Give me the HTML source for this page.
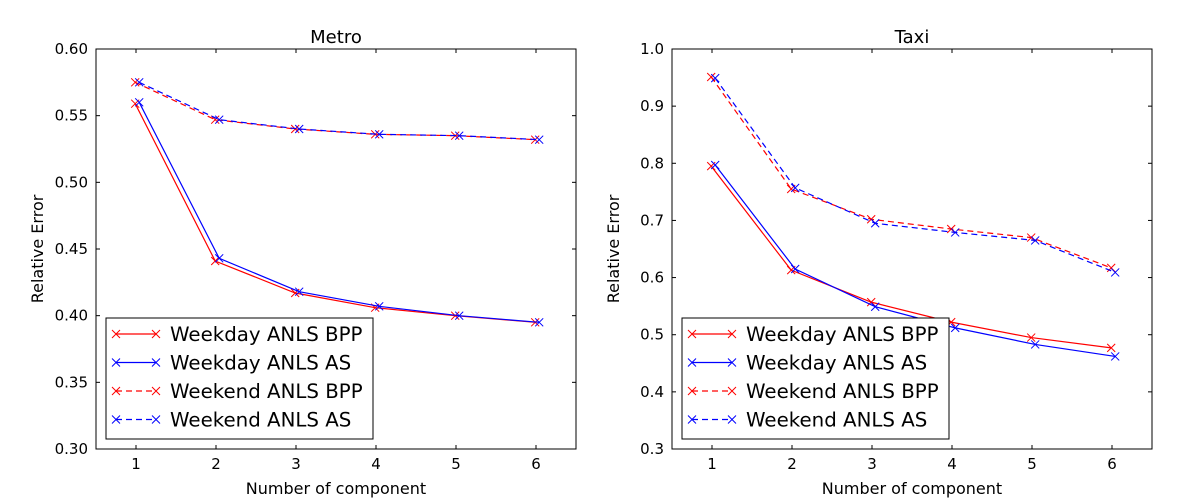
<!DOCTYPE html>
<html><head><meta charset="utf-8"><style>
body{margin:0;background:#fff;font-family:"DejaVu Sans","Liberation Sans",sans-serif;}
svg text{font-family:"DejaVu Sans","Liberation Sans",sans-serif;}
</style></head><body>
<svg id="chart" width="1200" height="500" xmlns="http://www.w3.org/2000/svg"></svg>
<script>
const categories=[1,2,3,4,5,6];
const metroWeekdayBPP=[0.559,0.441,0.417,0.406,0.400,0.395];
const metroWeekdayAS=[0.560,0.443,0.418,0.407,0.400,0.395];
const metroWeekendBPP=[0.575,0.547,0.540,0.536,0.535,0.532];
const metroWeekendAS=[0.575,0.547,0.540,0.536,0.535,0.532];
const taxiWeekdayBPP=[0.795,0.613,0.557,0.522,0.495,0.477];
const taxiWeekdayAS=[0.797,0.615,0.549,0.512,0.483,0.462];
const taxiWeekendBPP=[0.951,0.755,0.702,0.685,0.670,0.617];
const taxiWeekendAS=[0.949,0.757,0.695,0.679,0.665,0.609];
const metroYTicks=["0.30","0.35","0.40","0.45","0.50","0.55","0.60"];
const taxiYTicks=["0.3","0.4","0.5","0.6","0.7","0.8","0.9","1.0"];
const legendLabels=["Weekday ANLS BPP","Weekday ANLS AS","Weekend ANLS BPP","Weekend ANLS AS"];

const NS="http://www.w3.org/2000/svg";
const svg=document.getElementById('chart');
function mk(tag,attrs,parent,name){const e=document.createElementNS(NS,tag);for(const k in attrs)e.setAttribute(k,attrs[k]);


(parent||svg).appendChild(e);return e;}

function panel(x0,title,yTicks,ymin,ymax,series,key){
  const x1=x0+480,y0=49,y1=449;
  const sx=v=>x0+(v-0.5)/6*480;
  const sy=v=>y1-(v-ymin)/(ymax-ymin)*400;
  const g=mk('g',{},svg,key+'-panel');
  series.forEach((s,si)=>{
    const off=s.color==='blue'?0.04:-0.01;
    const pts=categories.map((c,i)=>[sx(c+off),sy(s.data[i])]);
    mk('polyline',{points:pts.map(p=>p.join(',')).join(' '),fill:'none',stroke:s.color,'stroke-width':1.2,'stroke-dasharray':s.dash?'6,4':'none'},g,key+'-line-'+si);
    pts.forEach((p,i)=>{mk('path',{d:`M${p[0]-4},${p[1]-4}L${p[0]+4},${p[1]+4}M${p[0]-4},${p[1]+4}L${p[0]+4},${p[1]-4}`,stroke:s.color,'stroke-width':1},g,key+'-marker-'+si+'-'+i);});
  });
  mk('rect',{x:x0,y:y0,width:480,height:400,fill:'none',stroke:'#000','stroke-width':1},g,key+'-frame');
  categories.forEach(c=>{const x=sx(c);
    mk('line',{x1:x,x2:x,y1:y1,y2:y1-4,stroke:'#000'},g,key+'-xtick');
    mk('line',{x1:x,x2:x,y1:y0,y2:y0+4,stroke:'#000'},g,key+'-xtick-top');
    const t=mk('text',{x:x,y:y1+20,'text-anchor':'middle','font-size':15},g,key+'-xtick-label');t.textContent=c;});
  yTicks.forEach(t=>{const y=sy(parseFloat(t));
    mk('line',{x1:x0,x2:x0+4,y1:y,y2:y,stroke:'#000'},g,key+'-ytick');
    mk('line',{x1:x1,x2:x1-4,y1:y,y2:y,stroke:'#000'},g,key+'-ytick-right');
    const e=mk('text',{x:x0-8,y:y+5,'text-anchor':'end','font-size':15},g,key+'-ytick-label');e.textContent=t;});
  const tt=mk('text',{x:x0+240,y:43,'text-anchor':'middle','font-size':18},g,key+'-title');tt.textContent=title;
  const xl=mk('text',{x:x0+240,y:494,'text-anchor':'middle','font-size':16},g,key+'-x-axis-title');xl.textContent='Number of component';
  const yl=mk('text',{x:0,y:0,'text-anchor':'middle','font-size':16,transform:`translate(${x0-53},${y0+200}) rotate(-90)`},g,key+'-y-axis-title');yl.textContent='Relative Error';
  const lg=mk('g',{},g,key+'-legend');
  mk('rect',{x:x0+10,y:318,width:267,height:121,fill:'#fff',stroke:'#000'},lg,key+'-legend-box');
  series.forEach((s,i)=>{const y=334+i*28.5;
    mk('line',{x1:x0+20,x2:x0+60,y1:y,y2:y,stroke:s.color,'stroke-width':1.2,'stroke-dasharray':s.dash?'6,4':'none'},lg,key+'-legend-line');
    [x0+20,x0+60].forEach(px=>mk('path',{d:`M${px-4},${y-4}L${px+4},${y+4}M${px-4},${y+4}L${px+4},${y-4}`,stroke:s.color},lg,key+'-legend-marker'));
    const e=mk('text',{x:x0+74,y:y+7,'font-size':19.8},lg,key+'-legend-entry');e.textContent=legendLabels[i];});
}
panel(96,'Metro',metroYTicks,0.30,0.60,[
 {data:metroWeekdayBPP,color:'red',dash:false},{data:metroWeekdayAS,color:'blue',dash:false},
 {data:metroWeekendBPP,color:'red',dash:true},{data:metroWeekendAS,color:'blue',dash:true}],'metro');
panel(672,'Taxi',taxiYTicks,0.3,1.0,[
 {data:taxiWeekdayBPP,color:'red',dash:false},{data:taxiWeekdayAS,color:'blue',dash:false},
 {data:taxiWeekendBPP,color:'red',dash:true},{data:taxiWeekendAS,color:'blue',dash:true}],'taxi');
</script>
</body></html>
